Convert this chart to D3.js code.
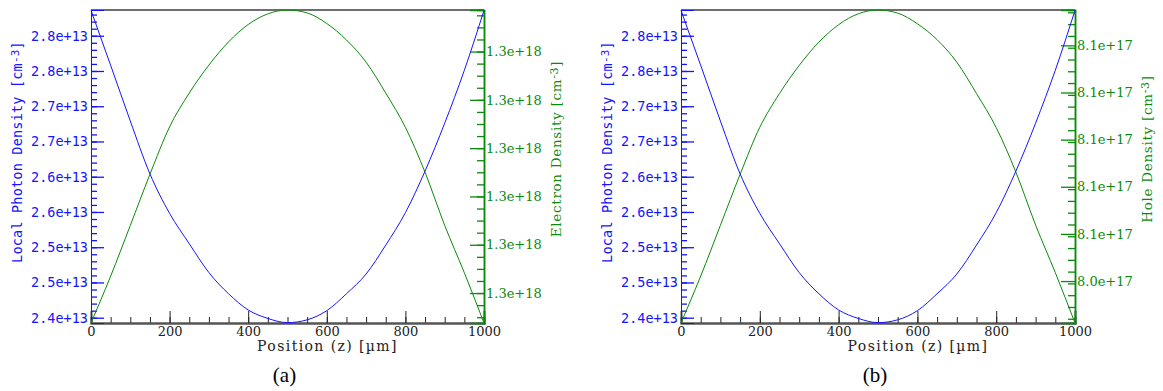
<!DOCTYPE html>
<html>
<head>
<meta charset="utf-8">
<script src="https://cdn.jsdelivr.net/npm/d3@7"></script>
<style>
  body { margin: 0; background: #fff; }
  svg { display: block; }
</style>
</head>
<body>
<svg id="chart" width="1163" height="391"></svg>
<script>

// position along the cavity [um]
const positions = [0, 50, 100, 150, 200, 250, 300, 350, 400, 450, 500,
                   550, 600, 650, 700, 750, 800, 850, 900, 950, 1000];

// local photon density, units of 1e13 cm-3 (same in both panels)
const photonDensity = [2.876, 2.798, 2.719, 2.644, 2.588, 2.545, 2.504, 2.474, 2.451, 2.439, 2.433,
                       2.437, 2.450, 2.474, 2.502, 2.543, 2.589, 2.648, 2.716, 2.791, 2.876];

// electron density, units of 1e18 cm-3 (panel a)
const electronDensity = [1.32038, 1.32135, 1.32240, 1.32346, 1.32444, 1.32514, 1.32572, 1.32620, 1.32656, 1.32678, 1.32686,
                         1.32680, 1.32658, 1.32624, 1.32578, 1.32514, 1.32443, 1.32350, 1.32240, 1.32142, 1.32038];

// hole density, units of 1e17 cm-3 (panel b)
const holeDensity = [8.04455, 8.04953, 8.05491, 8.06032, 8.06531, 8.06889, 8.07187, 8.07435, 8.07619, 8.07735, 8.07775,
                     8.07742, 8.07629, 8.07460, 8.07221, 8.06889, 8.06528, 8.06055, 8.05494, 8.04989, 8.04455];

// axis ticks and labels
const xTicks = [0, 200, 400, 600, 800, 1000];
const photonTicks = [2.84, 2.79, 2.74, 2.69, 2.64, 2.59, 2.54, 2.49, 2.44];
const photonTickLabels = ["2.8e+13", "2.8e+13", "2.7e+13", "2.7e+13", "2.6e+13",
                          "2.6e+13", "2.5e+13", "2.5e+13", "2.4e+13"];
const electronTicks = [1.326, 1.325, 1.324, 1.323, 1.322, 1.321];
const electronTickLabels = ["1.3e+18", "1.3e+18", "1.3e+18", "1.3e+18", "1.3e+18", "1.3e+18"];
const holeTicks = [8.074, 8.069, 8.064, 8.059, 8.054, 8.049];
const holeTickLabels = ["8.1e+17", "8.1e+17", "8.1e+17", "8.1e+17", "8.1e+17", "8.0e+17"];

const BLUE = "#1414ff";
const GREEN = "#0a8a0a";

// panel layout
let panels = [
  { left: 91, right: 484, caption: "(a)", rightTitle: "Electron Density ",
    rightValues: electronDensity, rightTicks: electronTicks, rightLabels: electronTickLabels,
    rightDomain: [1.32038, 1.32686], rightMinor: 0.00025 },
  { left: 681, right: 1075, caption: "(b)", rightTitle: "Hole Density ",
    rightValues: holeDensity, rightTicks: holeTicks, rightLabels: holeTickLabels,
    rightDomain: [8.04455, 8.07775], rightMinor: 0.00125 }
];
const plotTop = 10, plotBottom = 323;

const svg = d3.select("#chart");
svg.append("rect").attr("width", 1163).attr("height", 391).attr("fill", "#fff");

function minorTicks(domain, step){
  let out = [];
  let start = Math.ceil(domain[0] / step - 1e-6);
  for (let k = start; k * step <= domain[1] + 1e-9; k++) out.push(k * step);
  return out;
}

// title with raised "-3"
function addTitle(g, x, y, text, color, font, size, spacing){
  let t = g.append("text")
    .attr("transform", "translate(" + x + "," + y + ") rotate(-90)")
    .attr("text-anchor", "middle")
    .attr("fill", color)
    .style("font-family", font)
    .style("font-size", size)
    .style("letter-spacing", spacing);
  t.append("tspan").text(text + "[cm");
  t.append("tspan").attr("dy", -3).style("font-size", "11px").text("-3");
  t.append("tspan").attr("dy", 3).text("]");
}

panels.forEach(function(p){

  let g = svg.append("g");

  let x = d3.scaleLinear().domain([0, 1000]).range([p.left, p.right]);
  let yL = d3.scaleLinear().domain([2.4325, 2.8765]).range([plotBottom, plotTop]);
  let yR = d3.scaleLinear().domain(p.rightDomain).range([plotBottom, plotTop]);

  // top frame
  g.append("line")
    .attr("x1", p.left).attr("x2", p.right)
    .attr("y1", plotTop).attr("y2", plotTop)
    .attr("stroke", "#6e6e6e").attr("stroke-width", 2);

  // x axis: minor, then major with labels
  let xMinor = g.append("g").attr("transform", "translate(0," + plotBottom + ")")
    .call(d3.axisBottom(x).tickValues(d3.range(0, 1001, 50)).tickSize(-6).tickFormat(""));
  let xAxis = g.append("g").attr("transform", "translate(0," + plotBottom + ")")
    .call(d3.axisBottom(x).tickValues(xTicks).tickSize(-12).tickPadding(4).tickFormat(d3.format("d")));
  [xMinor, xAxis].forEach(function(a){
    a.select(".domain").attr("stroke", "#555").attr("stroke-width", 2);
    a.selectAll(".tick line").attr("stroke", "#222");
  });
  xAxis.selectAll("text")
    .attr("fill", "#222")
    .style("font-family", "DejaVu Serif")
    .style("font-size", "13px");

  // left axis (photon density)
  let lMinor = g.append("g").attr("transform", "translate(" + p.left + ",0)")
    .call(d3.axisLeft(yL).tickValues(minorTicks(yL.domain(), 0.01)).tickSize(-6).tickFormat(""));
  let lAxis = g.append("g").attr("transform", "translate(" + p.left + ",0)")
    .call(d3.axisLeft(yL).tickValues(photonTicks).tickSize(-13).tickPadding(3)
      .tickFormat(function(d, i){ return photonTickLabels[i]; }));
  [lMinor, lAxis].forEach(function(a){
    a.select(".domain").attr("stroke", BLUE);
    a.selectAll(".tick line").attr("stroke", BLUE).attr("stroke-width", 1.3);
  });
  lAxis.selectAll("text")
    .attr("fill", BLUE)
    .style("font-family", "DejaVu Sans Mono")
    .style("font-size", "13.5px");

  // right axis (carrier density)
  let rMinor = g.append("g").attr("transform", "translate(" + p.right + ",0)")
    .call(d3.axisRight(yR).tickValues(minorTicks(p.rightDomain, p.rightMinor)).tickSize(-7).tickFormat(""));
  let rAxis = g.append("g").attr("transform", "translate(" + p.right + ",0)")
    .call(d3.axisRight(yR).tickValues(p.rightTicks).tickSize(-14).tickPadding(2)
      .tickFormat(function(d, i){ return p.rightLabels[i]; }));
  [rMinor, rAxis].forEach(function(a){
    a.select(".domain").attr("stroke", GREEN).attr("stroke-width", 1.5);
    a.selectAll(".tick line").attr("stroke", GREEN).attr("stroke-width", 1.3);
  });
  rAxis.selectAll("text")
    .attr("fill", GREEN)
    .style("font-family", "DejaVu Serif")
    .style("font-size", "13px");

  // curves
  let rows = positions.map(function(z, i){
    return { z: z, photon: photonDensity[i], carrier: p.rightValues[i] };
  });

  g.append("path")
    .datum(rows)
    .attr("fill", "none")
    .attr("stroke", GREEN)
    .attr("stroke-width", 1)
    .attr("d", d3.line().curve(d3.curveMonotoneX)
      .x(function(d){ return x(d.z); })
      .y(function(d){ return yR(d.carrier); }));

  g.append("path")
    .datum(rows)
    .attr("fill", "none")
    .attr("stroke", BLUE)
    .attr("stroke-width", 1)
    .attr("d", d3.line().curve(d3.curveMonotoneX)
      .x(function(d){ return x(d.z); })
      .y(function(d){ return yL(d.photon); }));

  // axis titles
  addTitle(g, p.left - 69, 152, "Local Photon Density ", BLUE, "DejaVu Sans Mono", "13.5px", "0.2px");
  addTitle(g, p.right + 77, 149, p.rightTitle, GREEN, "DejaVu Serif", "13.5px", "0.7px");

  g.append("text")
    .attr("x", (p.left + p.right) / 2 + 40)
    .attr("y", 351)
    .attr("text-anchor", "middle")
    .attr("fill", "#222")
    .style("font-family", "DejaVu Serif")
    .style("font-size", "14px")
    .style("letter-spacing", "1.4px")
    .text("Position (z) [\u00b5m]");

  g.append("text")
    .attr("x", (p.left + p.right) / 2 - 3)
    .attr("y", 382)
    .attr("text-anchor", "middle")
    .attr("fill", "#000")
    .style("font-family", "Liberation Serif")
    .style("font-size", "21px")
    .text(p.caption);
});

</script>
</body>
</html>
